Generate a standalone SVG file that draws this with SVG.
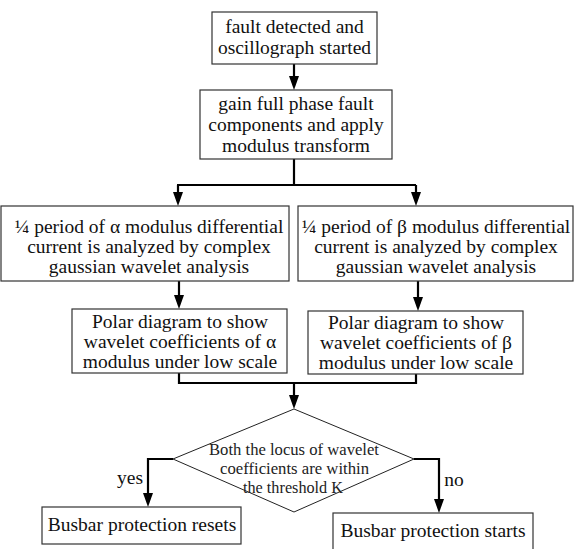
<svg xmlns="http://www.w3.org/2000/svg" width="575" height="549" viewBox="0 0 575 549">
<style>
.box{fill:#fff;stroke:#333;stroke-width:1.2}
.t{font-family:"Liberation Serif","Times New Roman",serif;font-size:19.5px;fill:#111;text-anchor:middle}
.d{font-family:"Liberation Serif","Times New Roman",serif;font-size:17px;fill:#222;text-anchor:middle}
.c{fill:none;stroke:#000;stroke-width:2.2}
.h{fill:#000}
</style>
<rect width="575" height="549" fill="#fff"/>
<g id="connectors">
<path class="c" d="M294,64 V76"/>
<path class="h" d="M289,76 L299,76 L294,90 Z"/>
<path class="c" d="M294,159 V185 M177,185 H416"/>
<path class="c" d="M178,185 V192 M416,185 V192"/>
<path class="h" d="M173,192 L183,192 L178,206 Z"/>
<path class="h" d="M411,192 L421,192 L416,206 Z"/>
<path class="c" d="M179,281 V295 M418,281 V297"/>
<path class="h" d="M174,295 L184,295 L179,309 Z"/>
<path class="h" d="M413,297 L423,297 L418,311 Z"/>
<path class="c" d="M179,373 V383 H416 V374 M294,383 V395"/>
<path class="h" d="M289,395 L299,395 L294,409 Z"/>
<path class="c" d="M173,459 H148 V493"/>
<path class="h" d="M143,493 L153,493 L148,507 Z"/>
<path class="c" d="M414,459 H439 V499"/>
<path class="h" d="M434,499 L444,499 L439,513 Z"/>
</g>
<g id="n1">
<rect class="box" x="212" y="12" width="165" height="52"/>
<text class="t" x="294.5" y="33">fault detected and</text>
<text class="t" x="294.5" y="54">oscillograph started</text>
</g>
<g id="n2">
<rect class="box" x="200" y="90" width="192" height="69"/>
<text class="t" x="296" y="110">gain full phase fault</text>
<text class="t" x="296" y="131">components and apply</text>
<text class="t" x="296" y="152">modulus transform</text>
</g>
<g id="n3">
<rect class="box" x="1" y="206" width="288" height="75"/>
<text class="t" x="149" y="233">¼ period of α modulus differential</text>
<text class="t" x="149" y="253">current is analyzed by complex</text>
<text class="t" x="149" y="273">gaussian wavelet analysis</text>
</g>
<g id="n4">
<rect class="box" x="298" y="206" width="275" height="75"/>
<text class="t" x="436" y="233">¼ period of β modulus differential</text>
<text class="t" x="436" y="253">current is analyzed by complex</text>
<text class="t" x="436" y="273">gaussian wavelet analysis</text>
</g>
<g id="n5">
<rect class="box" x="72" y="309" width="215" height="64"/>
<text class="t" x="180" y="328">Polar diagram to show</text>
<text class="t" x="180" y="348">wavelet coefficients of α</text>
<text class="t" x="180" y="368">modulus under low scale</text>
</g>
<g id="n6">
<rect class="box" x="308" y="311" width="215" height="63"/>
<text class="t" x="416" y="329">Polar diagram to show</text>
<text class="t" x="416" y="349">wavelet coefficients of β</text>
<text class="t" x="416" y="369">modulus under low scale</text>
</g>
<g id="n7">
<path d="M294,409 L414,459 L294,512 L173,459 Z" fill="#fff" stroke="#222" stroke-width="1"/>
<text class="d" x="294" y="455" textLength="170" lengthAdjust="spacingAndGlyphs">Both the locus of wavelet</text>
<text class="d" x="294.5" y="474" textLength="149" lengthAdjust="spacingAndGlyphs">coefficients are within</text>
<text class="d" x="293" y="493" textLength="100" lengthAdjust="spacingAndGlyphs">the threshold K</text>
</g>
<g id="n8">
<rect class="box" x="42" y="507" width="199" height="37"/>
<text class="t" x="142" y="531">Busbar protection resets</text>
</g>
<g id="n9">
<rect class="box" x="333" y="513" width="200" height="40"/>
<text class="t" x="433" y="537">Busbar protection starts</text>
</g>
<g id="labels">
<text class="t" x="130" y="484">yes</text>
<text class="t" x="454" y="486">no</text>
</g>
</svg>
